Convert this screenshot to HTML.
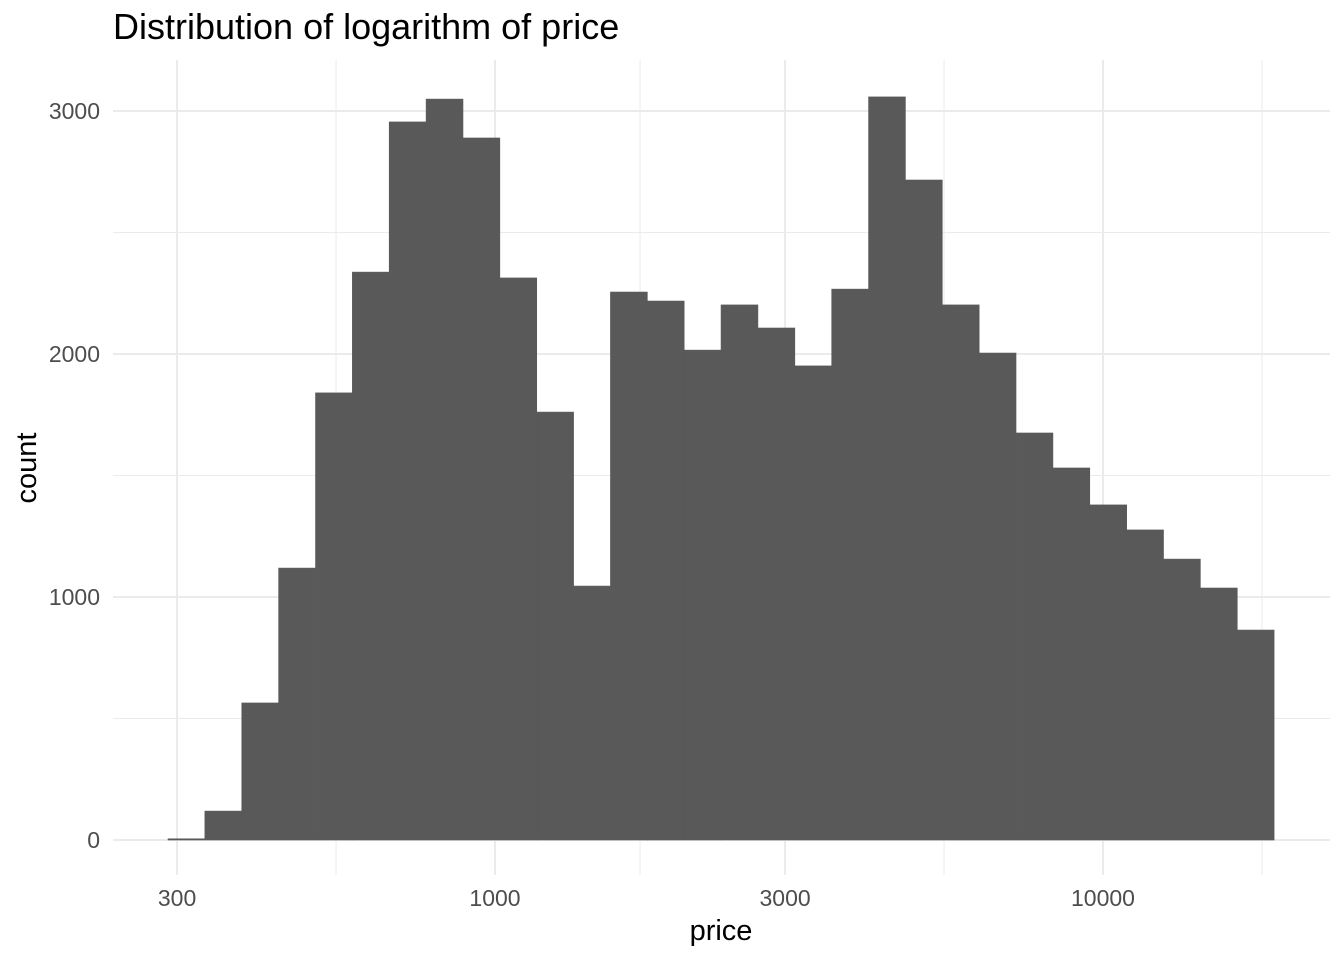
<!DOCTYPE html>
<html><head><meta charset="utf-8"><style>
html,body{margin:0;padding:0;background:#fff;}
svg{display:block;font-family:"Liberation Sans",sans-serif;}
</style></head><body>
<svg id="chart" width="1344" height="960"></svg>
<script>
const binStartsLog = [2.4622,2.5228,2.5835,2.6441,2.7048,2.7654,2.8260,2.8867,2.9473,3.0080,3.0686,3.1293,3.1899,3.2505,3.3112,3.3718,3.4325,3.4931,3.5538,3.6144,3.6750,3.7357,3.7963,3.8570,3.9176,3.9783,4.0389,4.0995,4.1602,4.2208];
const binWidthLog = 0.06064;
const counts = [5,119,564,1119,1840,2337,2955,3049,2889,2313,1761,1045,2255,2218,2016,2202,2107,1951,2267,3058,2716,2202,2004,1675,1531,1379,1276,1156,1037,864];
const xTicks = [300,1000,3000,10000];
const xTickLabels = ["300","1000","3000","10000"];
const xMinor = [547.7,1732,5477,18260];
const yTicks = [0,1000,2000,3000];
const yTickLabels = ["0","1000","2000","3000"];
const yMinor = [500,1500,2500];

const NS="http://www.w3.org/2000/svg";
const svg=document.getElementById('chart');
const L=113,R=1330,T=60,B=875;
function xs(v){return 495+(Math.log10(v)-3)*608;}
function xl(l){return 495+(l-3)*608;}
function ys(v){return 840-v*0.243;}
function mk(tag,attrs,name){const e=document.createElementNS(NS,tag);for(const k in attrs)e.setAttribute(k,attrs[k]);


svg.appendChild(e);return e;}
yMinor.forEach(v=>mk('line',{x1:L,x2:R,y1:ys(v),y2:ys(v),stroke:'#ebebeb','stroke-width':1},'y-minor-gridline'));
xMinor.forEach(v=>mk('line',{x1:xs(v),x2:xs(v),y1:T,y2:B,stroke:'#ebebeb','stroke-width':1},'x-minor-gridline'));
yTicks.forEach(v=>mk('line',{x1:L,x2:R,y1:ys(v),y2:ys(v),stroke:'#ebebeb','stroke-width':2},'y-major-gridline'));
xTicks.forEach(v=>mk('line',{x1:xs(v),x2:xs(v),y1:T,y2:B,stroke:'#ebebeb','stroke-width':2},'x-major-gridline'));
counts.forEach((c,i)=>{const x0=xl(binStartsLog[i]),x1=xl(binStartsLog[i]+binWidthLog);
mk('rect',{x:x0,y:ys(c),width:x1-x0,height:Math.max(ys(0)-ys(c),0.5),fill:'#595959',stroke:'#595959','stroke-width':0.6},'histogram-bar');});
yTicks.forEach((v,i)=>{const t=mk('text',{x:100,y:ys(v)+8,'text-anchor':'end','font-size':23,fill:'#4d4d4d'},'y-tick-label');t.textContent=yTickLabels[i];});
xTicks.forEach((v,i)=>{const t=mk('text',{x:xs(v),y:906,'text-anchor':'middle','font-size':23,fill:'#4d4d4d'},'x-tick-label');t.textContent=xTickLabels[i];});
let t=mk('text',{x:721,y:940,'text-anchor':'middle','font-size':29,fill:'#000'},'x-axis-title');t.textContent='price';
t=mk('text',{x:36,y:468,'text-anchor':'middle','font-size':29,fill:'#000',transform:'rotate(-90 36 468)'},'y-axis-title');t.textContent='count';
t=mk('text',{x:113,y:39,'font-size':36,fill:'#000'},'chart-title');t.textContent='Distribution of logarithm of price';
</script>
</body></html>
